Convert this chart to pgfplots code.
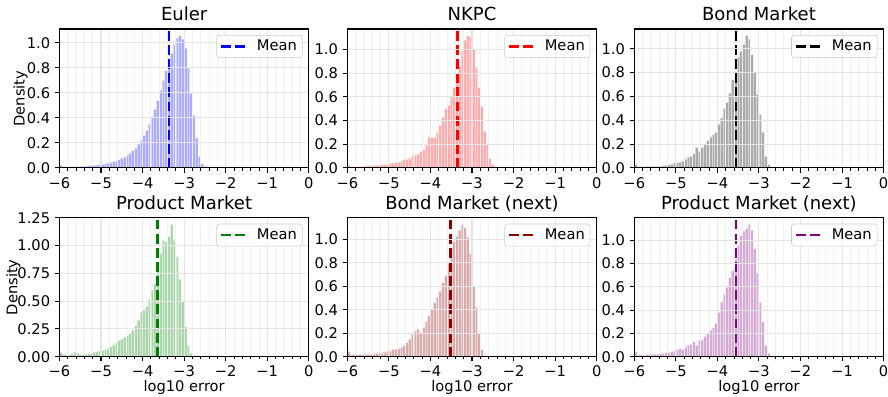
\documentclass[border=0pt]{standalone}
\usepackage{fontspec}
\setmainfont{DejaVu Sans}
\usepackage{pgfplots}
\pgfplotsset{compat=1.18}
\usepackage{pgfplotstable}

\definecolor{mblue}{RGB}{0,0,255}
\definecolor{mred}{RGB}{255,0,0}
\definecolor{mblack}{RGB}{0,0,0}
\definecolor{mgreen}{RGB}{0,128,0}
\definecolor{mdarkred}{RGB}{139,0,0}
\definecolor{mpurple}{RGB}{128,0,128}

\pgfplotstableread{
x e n b p bn pn
-6.0000 0.025 0.020 0.030 0.040 0.045 0.045
-5.9333 0.012 0.012 0.012 0.024 0.018 0.016
-5.8667 0.010 0.012 0.014 0.018 0.020 0.017
-5.8000 0.010 0.013 0.012 0.020 0.018 0.016
-5.7333 0.010 0.012 0.016 0.025 0.020 0.018
-5.6667 0.011 0.014 0.013 0.040 0.020 0.020
-5.6000 0.012 0.015 0.015 0.030 0.022 0.022
-5.5333 0.013 0.020 0.014 0.018 0.020 0.023
-5.4667 0.014 0.018 0.016 0.020 0.024 0.022
-5.4000 0.016 0.022 0.018 0.024 0.022 0.026
-5.3333 0.018 0.025 0.020 0.027 0.028 0.030
-5.2667 0.020 0.022 0.022 0.030 0.035 0.035
-5.2000 0.022 0.030 0.028 0.040 0.033 0.035
-5.1333 0.025 0.033 0.030 0.048 0.040 0.045
-5.0667 0.028 0.030 0.045 0.050 0.045 0.050
-5.0000 0.031 0.040 0.045 0.056 0.050 0.060
-4.9333 0.035 0.038 0.050 0.063 0.060 0.070
-4.8667 0.040 0.050 0.060 0.075 0.065 0.065
-4.8000 0.045 0.050 0.075 0.090 0.070 0.085
-4.7333 0.051 0.056 0.090 0.107 0.080 0.100
-4.6667 0.058 0.070 0.100 0.125 0.095 0.105
-4.6000 0.066 0.072 0.120 0.145 0.120 0.130
-4.5333 0.076 0.080 0.175 0.160 0.150 0.100
-4.4667 0.088 0.100 0.140 0.175 0.190 0.145
-4.4000 0.103 0.110 0.170 0.190 0.220 0.145
-4.3333 0.120 0.115 0.200 0.210 0.235 0.175
-4.2667 0.140 0.140 0.230 0.240 0.210 0.200
-4.2000 0.160 0.155 0.260 0.280 0.250 0.230
-4.1333 0.190 0.190 0.280 0.330 0.300 0.250
-4.0667 0.220 0.260 0.300 0.400 0.350 0.290
-4.0000 0.260 0.260 0.370 0.420 0.400 0.380
-3.9333 0.300 0.255 0.420 0.450 0.460 0.470
-3.8667 0.350 0.300 0.500 0.520 0.510 0.540
-3.8000 0.410 0.360 0.550 0.600 0.560 0.600
-3.7333 0.470 0.430 0.630 0.660 0.630 0.680
-3.6667 0.540 0.500 0.740 0.770 0.690 0.740
-3.6000 0.620 0.530 0.760 0.930 0.800 0.840
-3.5333 0.700 0.600 0.930 1.050 0.920 0.960
-3.4667 0.780 0.680 0.980 1.030 0.980 1.040
-3.4000 0.850 0.760 1.040 1.080 1.030 1.080
-3.3333 0.920 0.860 1.110 1.190 1.080 1.100
-3.2667 0.990 0.990 1.080 1.050 1.128 1.137
-3.2000 1.040 1.080 0.950 0.900 1.100 1.090
-3.1333 1.057 1.116 0.800 0.700 1.020 0.930
-3.0667 1.030 1.110 0.620 0.500 0.880 0.720
-3.0000 0.960 1.000 0.450 0.270 0.600 0.470
-2.9333 0.800 0.850 0.300 0.100 0.420 0.300
-2.8667 0.600 0.680 0.100 0.030 0.200 0.100
-2.8000 0.420 0.520 0.030 0.008 0.060 0.030
-2.7333 0.240 0.310 0.010 0.003 0.015 0.008
-2.6667 0.090 0.200 0.004 0.000 0.004 0.002
-2.6000 0.035 0.080 0.000 0.000 0.000 0.000
-2.5333 0.014 0.030 0.000 0.000 0.000 0.000
-2.4667 0.007 0.010 0.000 0.000 0.000 0.000
-2.4000 0.003 0.003 0.000 0.000 0.000 0.000
-2.3333 0.000 0.000 0.000 0.000 0.000 0.000
}\hist

\pgfplotsset{
  histax/.style={
    scale only axis, width=187pt, height=104.2pt,
    anchor=north west,
    xmin=-6, xmax=0, ymin=0,
    axis on top,
    xtick={-6,-5,-4,-3,-2,-1,0},
    xticklabels={−6,−5,−4,−3,−2,−1,0},
    minor xtick={-5.8,-5.6,-5.4,-5.2,-4.8,-4.6,-4.4,-4.2,-3.8,-3.6,-3.4,-3.2,-2.8,-2.6,-2.4,-2.2,-1.8,-1.6,-1.4,-1.2,-0.8,-0.6,-0.4,-0.2},
    grid=both,
    major grid style={line width=0.8pt, draw=black!10},
    minor grid style={line width=0.6pt, draw=black!6},
    tick pos=left,
    tick align=outside,
    major tick length=3.5pt, minor tick length=2pt,
    every tick/.style={black, line width=0.8pt},
    minor tick style={line width=0.6pt},
    axis line style={line width=0.8pt, black},
    tick label style={font=\fontsize{11}{13}\selectfont},
    label style={font=\fontsize{11}{13}\selectfont},
    title style={at={(axis description cs:0.5,1)}, anchor=base, yshift=0.2pt, font=\fontsize{13.5}{16}\selectfont},
    ylabel style={at={([xshift=-26.1pt]axis description cs:0,0.5)}, anchor=base},
    xlabel style={at={([yshift=-26.3pt]axis description cs:0.5,0)}, anchor=base},
    legend image code/.code={\draw[##1] (0pt,0pt) -- (20pt,0pt);},
    legend style={at={(1,1)}, anchor=north east, xshift=-4.7pt, yshift=-4.5pt,
      draw=black!20, fill=white, fill opacity=0.8, text opacity=1,
      rounded corners=2pt, font=\fontsize{11}{13}\selectfont,
      inner xsep=2pt, inner ysep=1.5pt, cells={anchor=west},
      /tikz/every odd column/.append style={column sep=4pt}},
    ytick={0,0.2,0.4,0.6,0.8,1.0},
    yticklabels={0.0,0.2,0.4,0.6,0.8,1.0},
  },
  histbars/.style={ybar interval, fill=#1, fill opacity=0.33, draw=white, draw opacity=0.5, line width=0.4pt, forget plot},
  meanln/.style={draw=#1, line width=2.2pt, dash pattern=on 7.4pt off 3.2pt, no markers},
}

\begin{document}
\begin{tikzpicture}
\useasboundingbox (0,0) rectangle (666pt,-297pt);

\begin{axis}[histax, at={(44.6pt,-21.75pt)}, ymax=1.11, title={Euler}, ylabel={Density}]
\addplot[histbars=mblue] table[x=x,y=e]{\hist};
\addplot[meanln=mblue] coordinates {(-3.37,0) (-3.37,2)};
\addlegendentry{Mean}
\end{axis}

\begin{axis}[histax, at={(260.5pt,-21.75pt)}, ymax=1.172, title={NKPC}]
\addplot[histbars=mred] table[x=x,y=n]{\hist};
\addplot[meanln=mred] coordinates {(-3.35,0) (-3.35,2)};
\addlegendentry{Mean}
\end{axis}

\begin{axis}[histax, at={(475.7pt,-21.75pt)}, ymax=1.166, title={Bond Market}]
\addplot[histbars=mblack] table[x=x,y=b]{\hist};
\addplot[meanln=mblack] coordinates {(-3.57,0) (-3.57,2)};
\addlegendentry{Mean}
\end{axis}

\begin{axis}[histax, at={(44.6pt,-163.3pt)}, ymax=1.25, title={Product Market}, ylabel={Density}, xlabel={log10 error},
  ylabel style={at={([xshift=-31.5pt]axis description cs:0,0.5)}},
  ytick={0,0.25,0.5,0.75,1.0,1.25}, yticklabels={0.00,0.25,0.50,0.75,1.00,1.25}]
\addplot[histbars=mgreen] table[x=x,y=p]{\hist};
\addplot[meanln=mgreen] coordinates {(-3.65,0) (-3.65,2)};
\addlegendentry{Mean}
\end{axis}

\begin{axis}[histax, at={(260.5pt,-163.3pt)}, ymax=1.184, title={Bond Market (next)}, xlabel={log10 error}]
\addplot[histbars=mdarkred] table[x=x,y=bn]{\hist};
\addplot[meanln=mdarkred] coordinates {(-3.515,0) (-3.515,2)};
\addlegendentry{Mean}
\end{axis}

\begin{axis}[histax, at={(475.7pt,-163.3pt)}, ymax=1.194, title={Product Market (next)}, xlabel={log10 error}]
\addplot[histbars=mpurple] table[x=x,y=pn]{\hist};
\addplot[meanln=mpurple] coordinates {(-3.57,0) (-3.57,2)};
\addlegendentry{Mean}
\end{axis}

\end{tikzpicture}
\end{document}
